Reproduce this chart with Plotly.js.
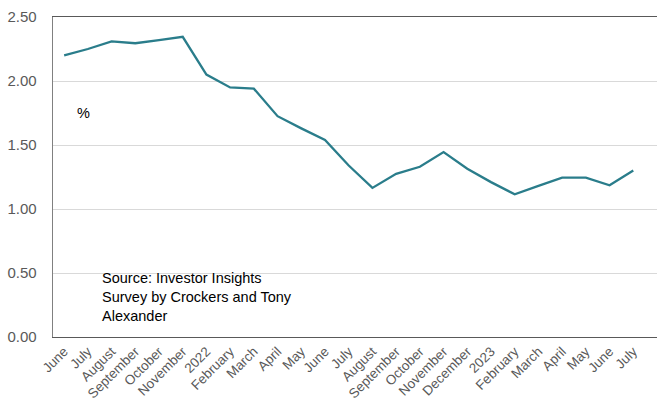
<!DOCTYPE html>
<html>
<head>
<meta charset="utf-8">
<script src="https://cdn.plot.ly/plotly-3.0.1.min.js"></script>
<style>
  html, body { margin: 0; padding: 0; background: #ffffff; }
  #chart { width: 659px; height: 404px; }
</style>
</head>
<body>
<div id="chart"></div>
<script>
// Month labels, June 2021 to July 2023 (year shown at each January)
const months = [
  "June", "July", "August", "September", "October", "November",
  "2022", "February", "March", "April", "May", "June", "July",
  "August", "September", "October", "November", "December",
  "2023", "February", "March", "April", "May", "June", "July"
];

// Survey reading, per cent
const values = [
  2.20, 2.25, 2.31, 2.295, 2.32, 2.345,
  2.05, 1.95, 1.94, 1.725, 1.63, 1.54, 1.34,
  1.165, 1.275, 1.33, 1.445, 1.315,
  1.21, 1.115, 1.18, 1.245, 1.245, 1.185, 1.30
];

const yTicks = [0, 0.5, 1.0, 1.5, 2.0, 2.5];

const positions = months.map((_, i) => i);

const trace = {
  x: positions,
  y: values,
  type: "scatter",
  mode: "lines",
  line: { color: "#2A7D8B", width: 2.3 },
  hoverinfo: "skip"
};

const textFont = { family: "Liberation Sans, Arial, sans-serif", size: 14.5, color: "#000000" };

const layout = {
  width: 659,
  height: 404,
  margin: { l: 53, r: 2, t: 17, b: 67 },
  paper_bgcolor: "#ffffff",
  plot_bgcolor: "#ffffff",
  showlegend: false,
  xaxis: {
    range: [-0.47, 25.0],
    tickmode: "array",
    tickvals: positions,
    ticktext: months,
    tickangle: -45,
    tickfont: { family: "Liberation Sans, Arial, sans-serif", size: 13.5, color: "#595959" },
    showgrid: false,
    zeroline: false,
    showline: true,
    mirror: true,
    linecolor: "#595959",
    linewidth: 1.3,
    ticks: "",
    fixedrange: true
  },
  yaxis: {
    range: [0, 2.5],
    tickmode: "array",
    tickvals: yTicks,
    ticktext: yTicks.map(v => v.toFixed(2)),
    tickfont: { family: "Liberation Sans, Arial, sans-serif", size: 15, color: "#595959" },
    showgrid: true,
    gridcolor: "#D9D9D9",
    gridwidth: 1,
    zeroline: false,
    showline: true,
    linecolor: "#808080",
    linewidth: 1.3,
    ticks: "",
    ticklabelstandoff: 12,
    fixedrange: true
  },
  annotations: [
    {
      text: "%",
      xref: "paper", yref: "paper",
      x: 0.051, y: 0.70,
      xanchor: "center", yanchor: "middle",
      showarrow: false,
      font: textFont
    },
    {
      text: "Source: Investor Insights<br>Survey by Crockers and Tony<br>Alexander",
      xref: "paper", yref: "paper",
      x: 0.078, y: 0.125,
      xanchor: "left", yanchor: "middle",
      align: "left",
      showarrow: false,
      font: textFont
    }
  ]
};

Plotly.newPlot("chart", [trace], layout, { displayModeBar: false, staticPlot: true });
</script>
</body>
</html>
